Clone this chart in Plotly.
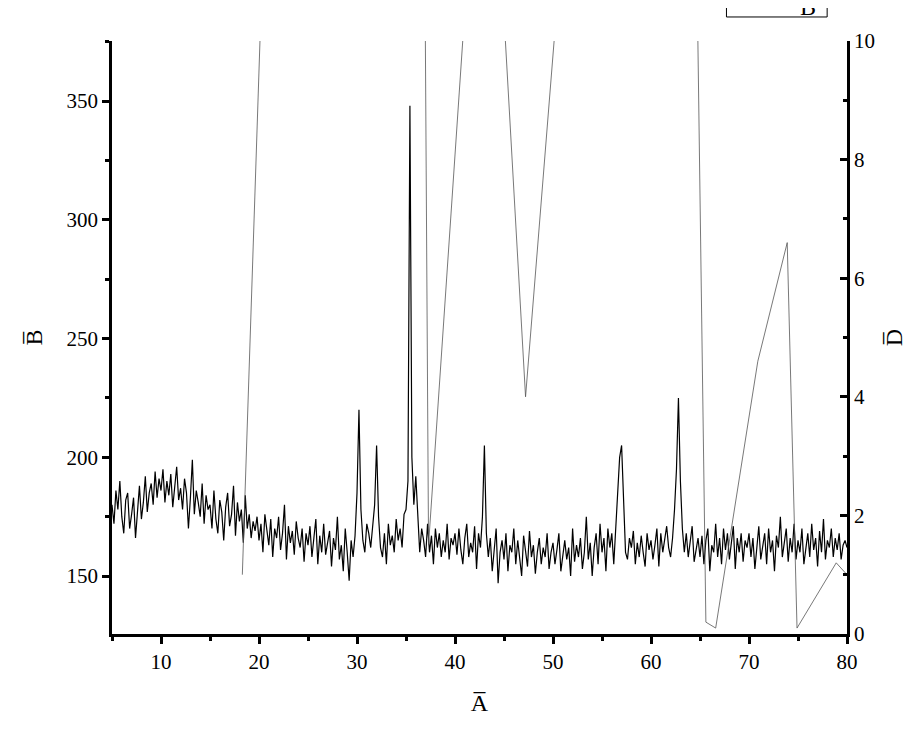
import numpy as np
import plotly.graph_objects as go

# Black pattern, step 0.2 starting at 5.0 (left axis B)
r05 = [180,172,186,178,190,175,168,182,185,170,176,183,166,179,188,174,181,192,177,185,189,180,194,183,191]
r10 = [186,195,181,190,184,193,179,188,196,182,187,178,191,185,170,183,199,176,186,181,175,189,172,184,178]
r15 = [180,170,186,174,168,182,177,165,179,185,171,176,188,167,181,173,178,164,184,170,176,166,173,169,175]
r20 = [165,172,160,176,168,163,174,158,170,166,175,161,168,180,157,171,164,169,159,173,166,162,170,156,168]
r25 = [163,171,158,166,174,155,167,160,172,159,164,169,154,166,161,175,157,163,152,170,160,148,165,158,167]
r30 = [185,220,178,165,160,172,168,162,170,180,205,175,162,158,168,155,172,163,167,160,174,165,170,162,176]
r35 = [178,190,348,200,180,192,175,160,170,165,158,172,160,167,155,170,162,168,158,165,160,172,157,166,163]
r40 = [168,159,170,161,155,166,172,158,164,160,171,153,168,162,175,205,168,158,166,152,163,170,147,160,165]
r45 = [157,168,152,163,160,170,155,165,158,150,167,161,154,169,158,163,151,160,166,155,162,158,168,153,160]
r50 = [164,155,161,168,152,159,165,157,162,150,170,156,163,158,166,153,160,175,157,164,150,162,168,155,172]
r55 = [160,166,152,170,162,168,155,172,188,200,205,185,160,157,166,162,169,155,164,158,167,160,154,168,161]
r60 = [165,157,163,170,154,168,160,166,171,162,158,166,178,195,225,190,170,160,168,158,164,171,156,162,166]
r65 = [158,167,155,165,170,152,163,160,172,158,166,155,170,161,168,157,164,171,153,166,160,168,156,165,162]
r70 = [168,158,166,153,164,171,157,163,168,155,170,160,165,152,167,162,175,158,164,170,156,166,160,172,157]
r75 = [165,160,170,155,163,168,158,172,161,166,154,169,160,174,157,165,162,170,158,166,161,168,157,163,165]
r80 = [162]
b_vals = r05+r10+r15+r20+r25+r30+r35+r40+r45+r50+r55+r60+r65+r70+r75+r80
x_start = 5.0
x_step = 0.2
b_x = [round(x_start + x_step*i, 2) for i in range(len(b_vals))]

# Thin gray series (right axis D)
d_x = [18.3, 20.5, 36.9, 37.3, 41.2, 44.8, 47.2, 50.6, 64.7, 65.6, 66.6, 70.9, 73.9, 74.9, 78.9, 80.0]
d_y = [1.0, 12.0, 12.0, 1.5, 11.0, 11.0, 4.0, 11.0, 11.0, 0.2, 0.1, 4.6, 6.6, 0.1, 1.2, 1.0]

font = "Liberation Serif"
fig = go.Figure()
fig.add_trace(go.Scatter(x=d_x, y=d_y, mode="lines", yaxis="y2",
                         line=dict(color="#555555", width=0.8), showlegend=False))
fig.add_trace(go.Scatter(x=b_x, y=b_vals, mode="lines",
                         line=dict(color="black", width=1.2), showlegend=False))

ax = dict(showline=True, linecolor="black", linewidth=2.5, showgrid=False, zeroline=False,
          ticks="outside", ticklen=7, tickwidth=2.5, tickcolor="black",
          tickfont=dict(family=font, size=21, color="black"))
mt = dict(ticklen=4, tickwidth=2.5, tickcolor="black")
fig.update_layout(
    width=920, height=737, plot_bgcolor="white", paper_bgcolor="white",
    margin=dict(l=104, r=81, t=33, b=111),
    xaxis=dict(**ax, range=[5, 80], tickvals=[10,20,30,40,50,60,70,80],
               minor=dict(tickvals=[5,15,25,35,45,55,65,75], ticks="outside", **mt),
               title=dict(text="A̅", font=dict(family=font, size=24, color="black"), standoff=22)),
    yaxis=dict(**ax, range=[125.6, 375.3], tickvals=[150,200,250,300,350],
               minor=dict(tickvals=[125,175,225,275,325,375], ticks="outside", **mt),
               title=dict(text="B̅", font=dict(family=font, size=24, color="black"), standoff=18)),
    yaxis2=dict(**{**ax, "ticks": "inside"}, overlaying="y", side="right", range=[0, 10],
                tickvals=[0,2,4,6,8,10],
                minor=dict(tickvals=[1,3,5,7,9], ticks="inside", **mt),
                title=dict(text="D̅", font=dict(family=font, size=24, color="black"), standoff=12)),
)
fig.add_shape(type="rect", xref="paper", yref="paper", x0=0.836, x1=0.973, y0=1.0405, y1=1.12,
              line=dict(color="black", width=1))
fig.add_annotation(xref="paper", yref="paper", x=0.96, y=1.058, text="B", showarrow=False,
                   xanchor="right", yanchor="middle", font=dict(family=font, size=24, color="black"))
fig.write_html("out.html")
